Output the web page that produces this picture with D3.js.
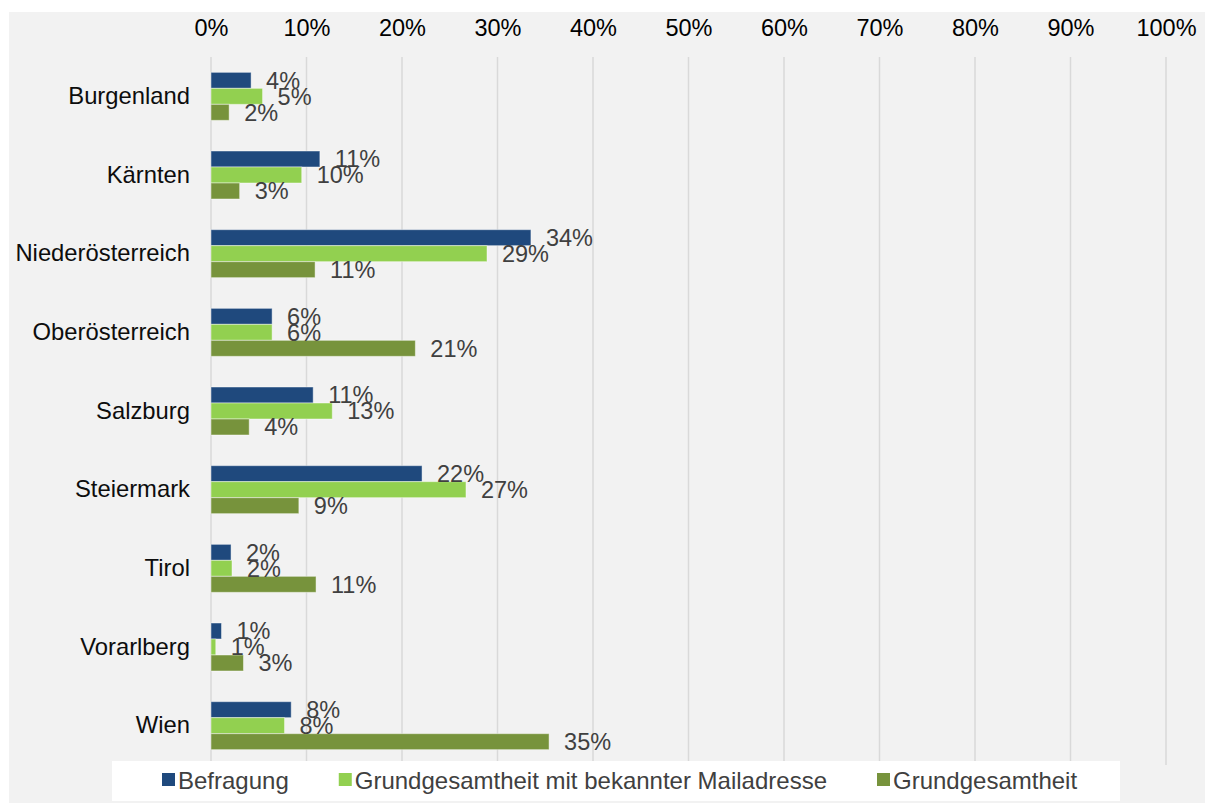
<!DOCTYPE html>
<html>
<head>
<meta charset="utf-8">
<script src="https://cdn.jsdelivr.net/npm/d3@7"></script>
<style>
  body { margin: 0; background: #fff; }
  text { font-family: "Liberation Sans", Arial, sans-serif; }
</style>
</head>
<body>
<div id="chart"></div>
<script>
// categories and series (share of total, in %)
let regions = ["Burgenland", "Kärnten", "Niederösterreich", "Oberösterreich", "Salzburg",
               "Steiermark", "Tirol", "Vorarlberg", "Wien"];
let seriesNames = ["Befragung", "Grundgesamtheit mit bekannter Mailadresse", "Grundgesamtheit"];
let befragung = [4.2, 11.4, 33.5, 6.4, 10.7, 22.1, 2.1, 1.1, 8.4];
let mitMail = [5.4, 9.5, 28.9, 6.4, 12.7, 26.7, 2.2, 0.5, 7.7];
let gesamt = [1.9, 3.0, 10.9, 21.4, 4.0, 9.2, 11.0, 3.4, 35.4];
let tickValues = [0, 10, 20, 30, 40, 50, 60, 70, 80, 90, 100];
let colors = ["#1f497d", "#92d050", "#77933c"];

let svgWidth = 1205;
let svgHeight = 803;

let margin = { top: 57, right: 39, bottom: 38, left: 211 };
let width = svgWidth - margin.left - margin.right;
let height = svgHeight - margin.top - margin.bottom;

let svg = d3.select("#chart")
    .append("svg")
    .attr("width", svgWidth)
    .attr("height", svgHeight);

// grey chart background
svg.append("rect")
    .attr("x", 9)
    .attr("y", 12)
    .attr("width", svgWidth - 9)
    .attr("height", svgHeight - 12)
    .attr("fill", "#f2f2f2");

let chartGroup = svg.append("g")
    .attr("transform", `translate(${margin.left}, ${margin.top})`);

let data = regions.map((r, i) => ({
    region: r,
    values: [befragung[i], mitMail[i], gesamt[i]]
}));

let xScale = d3.scaleLinear()
    .domain([0, 100])
    .range([0, width]);

let yScale = d3.scaleBand()
    .domain(regions)
    .range([0, height])
    .paddingInner(0.39)
    .paddingOuter(0.195);

let ySub = d3.scaleBand()
    .domain([0, 1, 2])
    .range([0, yScale.bandwidth()]);

// gridlines
chartGroup.selectAll(".grid")
    .data(tickValues)
    .enter()
    .append("line")
    .attr("x1", d => xScale(d))
    .attr("x2", d => xScale(d))
    .attr("y1", 0)
    .attr("y2", height)
    .attr("stroke", "#d9d9d9")
    .attr("stroke-width", 1.5);

// top axis labels
let topAxis = d3.axisTop(xScale)
    .tickValues(tickValues)
    .tickSize(0)
    .tickPadding(0)
    .tickFormat(d => d + "%");

chartGroup.append("g")
    .attr("transform", `translate(0, -29)`)
    .call(topAxis)
    .call(g => g.select(".domain").remove())
    .selectAll("text")
    .attr("font-size", "23.5px")
    .attr("font-family", "Liberation Sans, Arial, sans-serif")
    .attr("fill", "#000")
    .attr("dy", "0.35em");

// category labels
let leftAxis = d3.axisLeft(yScale)
    .tickSize(0)
    .tickPadding(21);

chartGroup.append("g")
    .call(leftAxis)
    .call(g => g.select(".domain").remove())
    .selectAll("text")
    .attr("font-size", "23.8px")
    .attr("font-family", "Liberation Sans, Arial, sans-serif")
    .attr("fill", "#0d0d0d");

let groups = chartGroup.selectAll(".region")
    .data(data)
    .enter()
    .append("g")
    .attr("transform", d => `translate(0, ${yScale(d.region)})`);

groups.selectAll("rect")
    .data(d => d.values)
    .enter()
    .append("rect")
    .attr("x", 0)
    .attr("y", (d, i) => ySub(i))
    .attr("width", d => xScale(d))
    .attr("height", ySub.bandwidth())
    .attr("fill", (d, i) => colors[i])
    .attr("stroke", "rgba(255,255,255,0.45)")
    .attr("stroke-width", 1);

groups.selectAll(".valueLabel")
    .data(d => d.values)
    .enter()
    .append("text")
    .attr("class", "valueLabel")
    .attr("x", d => xScale(d) + 15)
    .attr("y", (d, i) => ySub(i) + ySub.bandwidth() / 2)
    .attr("dy", "0.36em")
    .attr("font-size", "23.5px")
    .attr("fill", "#404040")
    .text(d => Math.round(d) + "%");

// legend
let legend = svg.append("g");
legend.append("rect")
    .attr("x", 112)
    .attr("y", 761)
    .attr("width", 1008)
    .attr("height", 40)
    .attr("fill", "#fff");

let lx = 162;
seriesNames.forEach(function(name, i) {
    legend.append("rect")
        .attr("x", lx)
        .attr("y", 773)
        .attr("width", 13)
        .attr("height", 13)
        .attr("fill", colors[i]);
    let t = legend.append("text")
        .attr("x", lx + 16)
        .attr("y", 780)
        .attr("dy", "0.36em")
        .attr("font-size", "24px")
        .attr("fill", "#404040")
        .text(name);
    lx += 16 + t.node().getComputedTextLength() + 50;
});
</script>
</body>
</html>
